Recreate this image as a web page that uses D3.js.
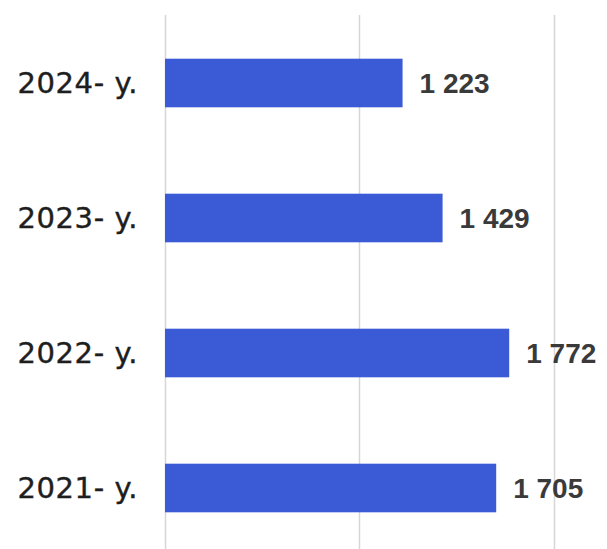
<!DOCTYPE html>
<html>
<head>
<meta charset="utf-8">
<script src="https://cdn.jsdelivr.net/npm/d3@7"></script>
<style>
  body { margin: 0; background: #fff; }
</style>
</head>
<body>
<div class="chart"></div>
<script>
// horizontal bars, one per year

var categories = ["2024- y.", "2023- y.", "2022- y.", "2021- y."];
var values = [1223, 1429, 1772, 1705];
var gridTicks = [0, 1000, 2000];

var width = 607,
    height = 549;

var x = d3.scaleLinear().domain([0, 2000]).range([165, 553.5]);
var y = d3.scaleBand()
    .domain(categories)
    .range([15.5, 555.5])
    .paddingInner(0.64)
    .paddingOuter(0.32);

var svg = d3.select(".chart").append("svg")
    .attr("width", width)
    .attr("height", height);

/* gridlines */
svg.append("g")
    .selectAll("line")
    .data(gridTicks)
    .enter().append("line")
    .attr("x1", function(d) { return Math.round(x(d)) + 0.5; })
    .attr("x2", function(d) { return Math.round(x(d)) + 0.5; })
    .attr("y1", 15)
    .attr("y2", height)
    .attr("stroke", "#d6d6d6")
    .attr("stroke-width", 1.5);

/* bars */
svg.append("g")
    .selectAll("rect")
    .data(values)
    .enter().append("rect")
    .attr("x", x(0))
    .attr("y", function(d, i) { return y(categories[i]); })
    .attr("width", function(d) { return x(d) - x(0); })
    .attr("height", y.bandwidth())
    .attr("fill", "#3b5ad6");

// category labels
svg.append("g")
    .selectAll("text")
    .data(categories)
    .enter().append("text")
    .attr("x", 138)
    .attr("y", function(d) { return y(d) + y.bandwidth() / 2; })
    .attr("dy", "0.36em")
    .attr("text-anchor", "end")
    .style("font-family", "'DejaVu Sans', sans-serif")
    .style("font-size", "29px")
    .style("letter-spacing", "0.6px")
    .style("fill", "#1e1e1e")
    .style("stroke", "#1e1e1e")
    .style("stroke-width", 0.4)
    .text(function(d) { return d; });

// value labels, space as thousands separator
var fmt = function(v) { return d3.format(",")(v).replace(",", " "); };

svg.append("g")
    .selectAll("text")
    .data(values)
    .enter().append("text")
    .attr("x", function(d) { return x(d) + 17; })
    .attr("y", function(d, i) { return y(categories[i]) + y.bandwidth() / 2; })
    .attr("dy", "0.36em")
    .style("font-family", "'Liberation Sans', Arial, sans-serif")
    .style("font-size", "28px")
    .style("font-weight", "bold")
    .style("fill", "#3a3a3a")
    .text(fmt);
</script>
</body>
</html>
